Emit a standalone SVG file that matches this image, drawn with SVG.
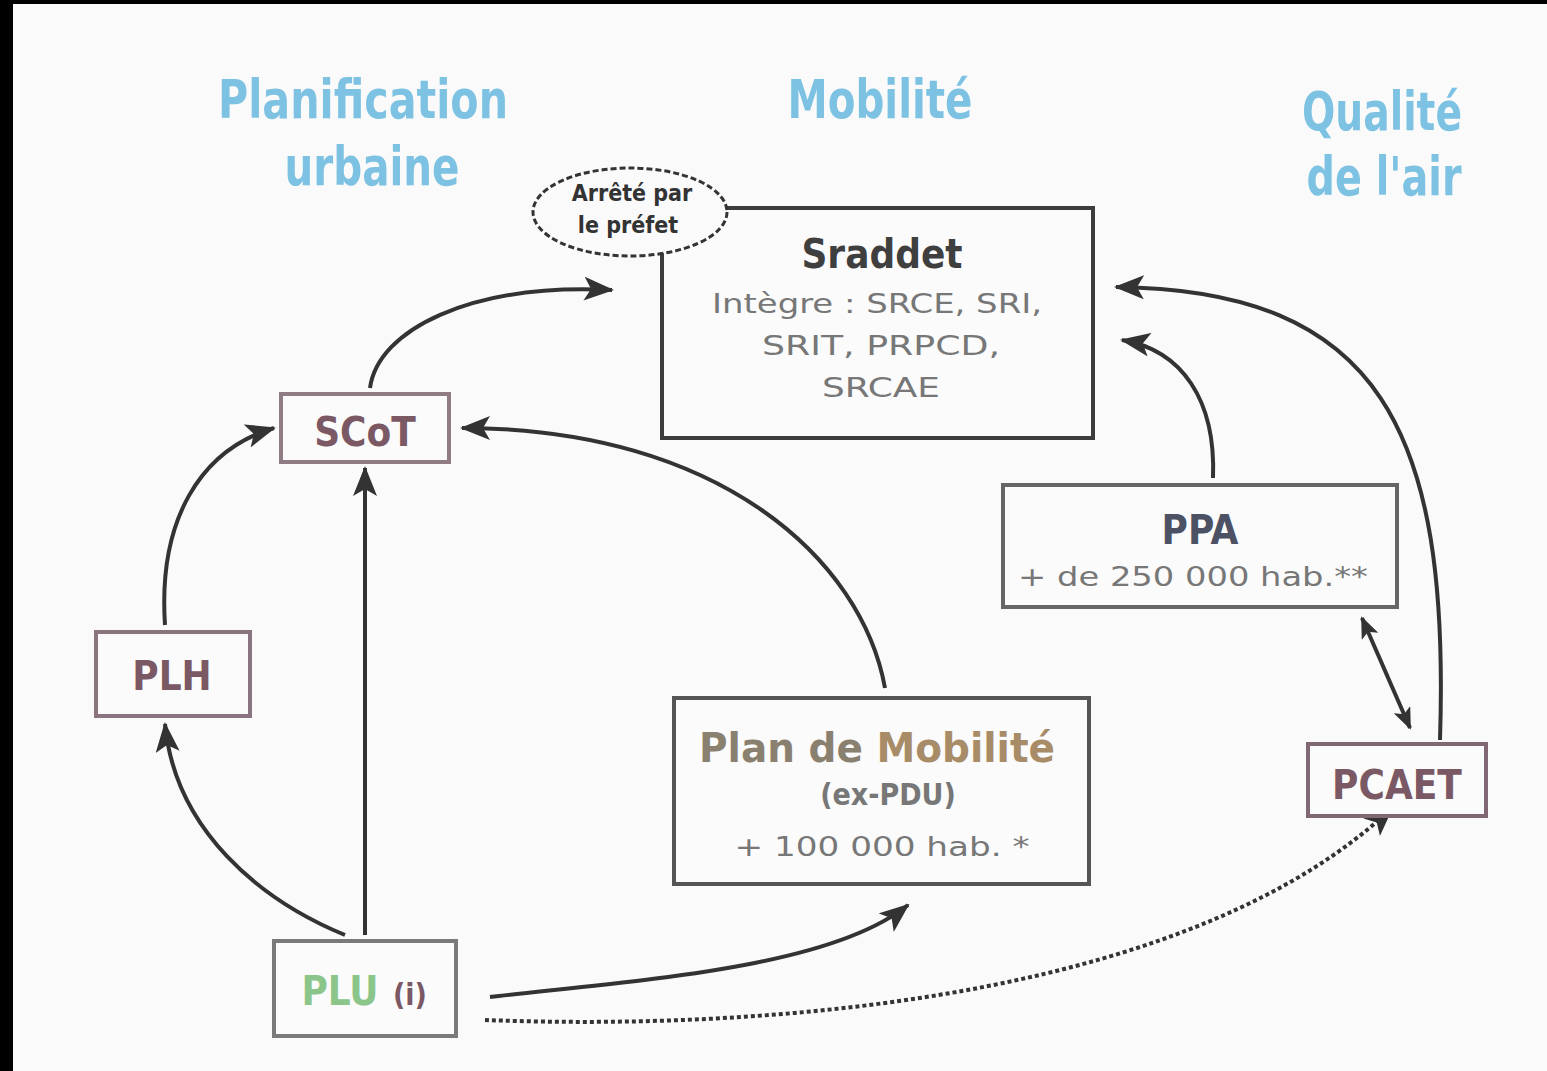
<svg xmlns="http://www.w3.org/2000/svg" width="1547" height="1071" viewBox="0 0 1547 1071">
<defs>
<style>
.title{font-family:"DejaVu Sans",sans-serif;font-stretch:condensed;font-weight:bold;fill:#7dc2e2;font-size:54px;text-anchor:middle}
.lbl{font-family:"DejaVu Sans",sans-serif;font-stretch:condensed;font-weight:bold;text-anchor:middle}
.sub{font-family:"DejaVu Sans",sans-serif;font-stretch:condensed;text-anchor:middle;fill:#777;font-size:27px}
.box{fill:#fbfbfb;stroke-width:4}
.conn{fill:none;stroke:#333;stroke-width:4}
</style>
<marker id="ah" viewBox="0 0 30 24" refX="28" refY="12" markerWidth="30" markerHeight="24" markerUnits="userSpaceOnUse" orient="auto-start-reverse">
<path d="M0,0 L30,12 L0,24 L7,12 Z" fill="#333"/>
</marker>
<marker id="ahs" viewBox="0 0 22 18" refX="20" refY="9" markerWidth="22" markerHeight="18" markerUnits="userSpaceOnUse" orient="auto-start-reverse">
<path d="M0,0 L22,9 L0,18 L5,9 Z" fill="#333"/>
</marker>
</defs>
<rect x="0" y="0" width="1547" height="1071" fill="#000"/>
<rect x="13" y="4" width="1534" height="1067" fill="#fafafa"/>

<g id="titles">
<text class="title" x="363" y="118" textLength="290" lengthAdjust="spacingAndGlyphs">Planification</text>
<text class="title" x="372" y="185" textLength="175" lengthAdjust="spacingAndGlyphs">urbaine</text>
<text class="title" x="880" y="118" textLength="185" lengthAdjust="spacingAndGlyphs">Mobilité</text>
<text class="title" x="1382" y="130" textLength="160" lengthAdjust="spacingAndGlyphs">Qualité</text>
<text class="title" x="1384" y="195" textLength="155" lengthAdjust="spacingAndGlyphs">de l'air</text>
</g>

<g id="connectors">
<path class="conn" d="M370,388 C378,330 470,283 612,290" marker-end="url(#ah)"/>
<path class="conn" d="M885,688 C862,560 720,428 462,428" marker-end="url(#ah)"/>
<path class="conn" d="M365,935 L365,468" marker-end="url(#ah)"/>
<path class="conn" d="M165,625 C158,520 200,450 274,428" marker-end="url(#ah)"/>
<path class="conn" d="M345,935 C260,900 175,830 165,724" marker-end="url(#ah)"/>
<path class="conn" d="M490,997 C640,980 830,968 908,905" marker-end="url(#ah)"/>
<path class="conn" d="M485,1020 C800,1032 1200,990 1392,808" stroke-dasharray="4,3" marker-end="url(#ah)"/>
<path class="conn" d="M1213,478 C1216,400 1182,350 1122,340" marker-end="url(#ah)"/>
<path class="conn" d="M1440,740 C1450,430 1380,290 1116,287" marker-end="url(#ah)"/>
<path class="conn" d="M1362,618 L1410,728" stroke-width="3" marker-start="url(#ahs)" marker-end="url(#ahs)"/>
</g>

<g id="sraddet">
<rect class="box" x="662" y="208" width="431" height="230" stroke="#3c3c3c"/>
<text class="lbl" x="882" y="268" font-size="40" fill="#3f3f3f">Sraddet</text>
<text class="sub" x="877" y="313" textLength="330" lengthAdjust="spacingAndGlyphs">Intègre : SRCE, SRI,</text>
<text class="sub" x="881" y="355" textLength="238" lengthAdjust="spacingAndGlyphs">SRIT, PRPCD,</text>
<text class="sub" x="881" y="397" textLength="118" lengthAdjust="spacingAndGlyphs">SRCAE</text>
</g>

<g id="prefet">
<ellipse cx="630" cy="212" rx="97" ry="44" fill="#fafafa" stroke="#333" stroke-width="3" stroke-dasharray="6,3"/>
<text class="lbl" x="632" y="201" font-size="23" fill="#333">Arrêté par</text>
<text class="lbl" x="628" y="233" font-size="23" fill="#333">le préfet</text>
</g>

<g id="scot">
<rect class="box" x="281" y="394" width="168" height="68" stroke="#8f7c84"/>
<text class="lbl" x="365" y="446" font-size="40" fill="#7a5864">SCoT</text>
</g>

<g id="plh">
<rect class="box" x="96" y="632" width="154" height="84" stroke="#8a7480"/>
<text class="lbl" x="172" y="690" font-size="40" fill="#7a5864">PLH</text>
</g>

<g id="plu">
<rect class="box" x="274" y="941" width="182" height="95" stroke="#7a7a7a"/>
<text class="lbl" x="340" y="1005" font-size="40" fill="#8cc58a">PLU</text>
<text class="lbl" x="410" y="1005" font-size="30" fill="#7a5864">(i)</text>
</g>

<g id="pdm">
<rect class="box" x="674" y="698" width="415" height="186" stroke="#555"/>
<text class="lbl" x="877" y="762" font-size="40" textLength="356" lengthAdjust="spacingAndGlyphs"><tspan fill="#8a8070">Plan de </tspan><tspan fill="#a88c68">Mobilité</tspan></text>
<text class="lbl" x="888" y="805" font-size="30" fill="#777">(ex-PDU)</text>
<text class="sub" x="882" y="856" fill="#999" textLength="295" lengthAdjust="spacingAndGlyphs">+ 100 000 hab. *</text>
</g>

<g id="ppa">
<rect class="box" x="1003" y="485" width="394" height="122" stroke="#666"/>
<text class="lbl" x="1200" y="544" font-size="40" fill="#4c5264">PPA</text>
<text class="sub" x="1193" y="586" fill="#777" textLength="350" lengthAdjust="spacingAndGlyphs">+ de 250 000 hab.**</text>
</g>

<g id="pcaet">
<rect class="box" x="1308" y="744" width="178" height="72" stroke="#806874"/>
<text class="lbl" x="1397" y="799" font-size="40" fill="#7a5864">PCAET</text>
</g>
</svg>
